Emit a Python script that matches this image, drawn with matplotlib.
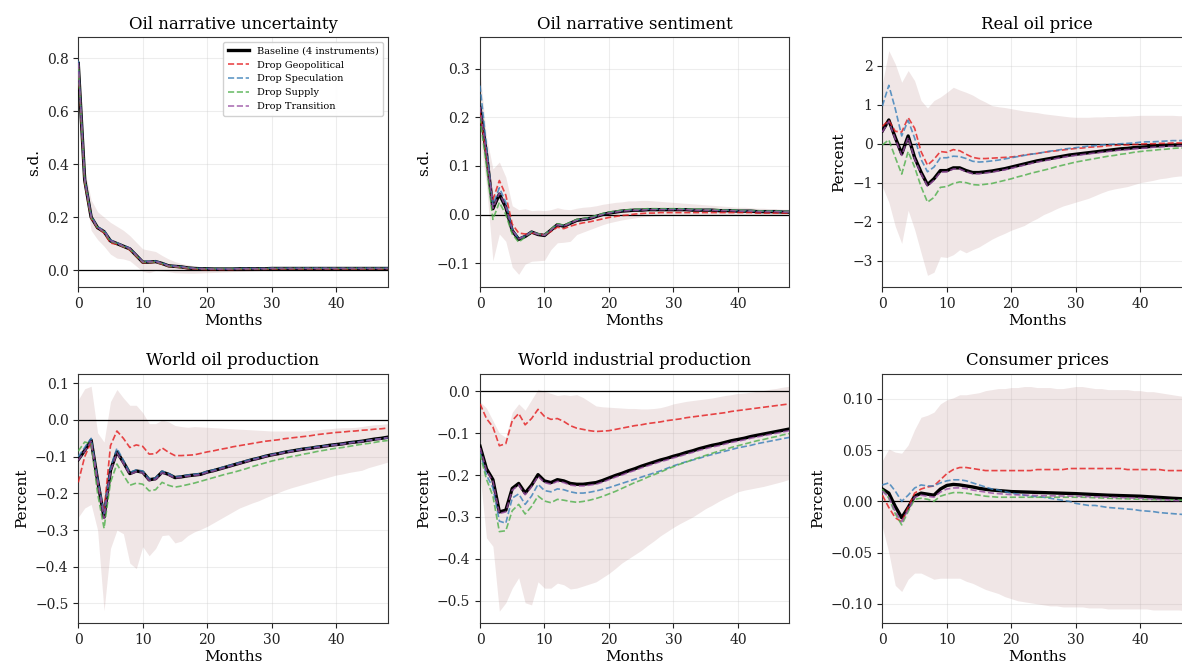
import numpy as np
import matplotlib
matplotlib.use("Agg")
import matplotlib.pyplot as plt

plt.rcParams['font.family'] = ['DejaVu Serif']

months = np.arange(49)

# Oil narrative uncertainty
unc_base = [0.780,0.340,0.200,0.160,0.145,0.110,0.100,0.090,0.080,0.055,0.030,0.030,0.032,0.025,0.016,0.014,0.012,0.008,0.006,0.005,0.005,
            0.004,0.004,0.004,0.004,0.005,0.005,0.005,0.005,0.005,0.006,0.006,0.006,0.006,0.006,0.006,0.006,0.006,0.006,0.006,0.006,0.006,0.006,0.006,0.006,0.006,0.006,0.006,0.006]
unc_geo = [0.770,0.330,0.195,0.158,0.140,0.102,0.097,0.088,0.076,0.052,0.028,0.028,0.030,0.022,0.014,0.012,0.009,0.006,0.004,0.003,0.002,
           0.002,0.002,0.002,0.002,0.003,0.003,0.003,0.003,0.003,0.004,0.004,0.004,0.004,0.004,0.004,0.004,0.004,0.004,0.004,0.004,0.004,0.004,0.004,0.004,0.004,0.004,0.004,0.004]
unc_spec = [0.790,0.345,0.205,0.162,0.150,0.113,0.103,0.092,0.083,0.057,0.032,0.033,0.034,0.027,0.017,0.015,0.013,0.009,0.007,0.006,0.006,
            0.005,0.005,0.005,0.005,0.006,0.006,0.006,0.006,0.006,0.007,0.007,0.007,0.007,0.007,0.007,0.007,0.007,0.007,0.007,0.007,0.007,0.007,0.007,0.007,0.007,0.007,0.007,0.007]
unc_supply = [0.775,0.338,0.198,0.160,0.144,0.108,0.100,0.089,0.079,0.054,0.030,0.029,0.031,0.024,0.015,0.013,0.011,0.008,0.006,0.005,0.005,
              0.005,0.005,0.005,0.005,0.005,0.005,0.005,0.005,0.005,0.006,0.006,0.006,0.006,0.006,0.006,0.006,0.006,0.006,0.006,0.006,0.006,0.006,0.006,0.006,0.006,0.006,0.006,0.006]
unc_trans = [0.782,0.342,0.201,0.160,0.146,0.111,0.101,0.090,0.081,0.056,0.031,0.031,0.032,0.025,0.016,0.014,0.012,0.008,0.006,0.005,0.005,
             0.004,0.004,0.004,0.004,0.005,0.005,0.005,0.005,0.005,0.006,0.006,0.006,0.006,0.006,0.006,0.006,0.006,0.006,0.006,0.006,0.006,0.006,0.006,0.006,0.006,0.006,0.006,0.006]
unc_lo = [0.760,0.300,0.150,0.115,0.090,0.060,0.045,0.042,0.035,0.015,-0.005,-0.010,-0.002,-0.004,-0.006,-0.010,-0.011,-0.012,-0.012,-0.011,-0.010,
          -0.009,-0.008,-0.007,-0.006,-0.005,-0.004,-0.003,-0.002,-0.001,0.000,0.001,0.001,0.001,0.001,0.001,0.002,0.002,0.002,0.002,0.002,0.002,0.002,0.002,0.002,0.002,0.002,0.002,0.002]
unc_hi = [0.800,0.380,0.265,0.220,0.200,0.180,0.165,0.150,0.130,0.105,0.080,0.075,0.070,0.055,0.042,0.032,0.025,0.020,0.016,0.013,0.011,
          0.010,0.010,0.010,0.009,0.009,0.009,0.009,0.009,0.009,0.009,0.009,0.009,0.009,0.009,0.009,0.009,0.009,0.009,0.009,0.009,0.009,0.009,0.009,0.009,0.009,0.009,0.009,0.009]

# Oil narrative sentiment
sent_base = [0.220,0.125,0.012,0.042,0.015,-0.033,-0.051,-0.045,-0.036,-0.041,-0.043,-0.032,-0.021,-0.024,-0.018,-0.012,-0.010,-0.008,-0.004,0.000,0.003,
             0.005,0.007,0.008,0.009,0.009,0.010,0.010,0.010,0.010,0.010,0.010,0.010,0.009,0.009,0.009,0.009,0.008,0.008,0.008,0.007,0.007,0.007,0.006,0.006,0.006,0.006,0.005,0.005]
sent_geo = [0.210,0.120,0.030,0.070,0.040,-0.020,-0.038,-0.040,-0.038,-0.040,-0.042,-0.035,-0.026,-0.029,-0.024,-0.020,-0.017,-0.015,-0.012,-0.009,-0.006,
            -0.004,-0.002,-0.001,0.001,0.002,0.003,0.003,0.004,0.004,0.004,0.004,0.004,0.004,0.004,0.004,0.004,0.004,0.004,0.004,0.004,0.004,0.004,0.003,0.003,0.003,0.003,0.003,0.003]
sent_spec = [0.265,0.140,0.020,0.055,0.025,-0.030,-0.050,-0.044,-0.035,-0.040,-0.042,-0.031,-0.020,-0.023,-0.017,-0.011,-0.009,-0.007,-0.003,0.001,0.004,
             0.006,0.008,0.009,0.010,0.010,0.011,0.011,0.011,0.011,0.011,0.011,0.011,0.010,0.010,0.010,0.010,0.009,0.009,0.009,0.008,0.008,0.008,0.007,0.007,0.007,0.007,0.006,0.006]
sent_supply = [0.200,0.100,-0.010,0.025,0.000,-0.040,-0.057,-0.046,-0.036,-0.040,-0.042,-0.030,-0.019,-0.022,-0.016,-0.010,-0.008,-0.006,-0.002,0.002,0.005,
               0.007,0.009,0.010,0.011,0.011,0.012,0.012,0.012,0.012,0.012,0.012,0.011,0.011,0.011,0.010,0.010,0.010,0.009,0.009,0.009,0.008,0.008,0.008,0.007,0.007,0.007,0.006,0.006]
sent_trans = [0.222,0.126,0.013,0.044,0.016,-0.032,-0.050,-0.044,-0.036,-0.041,-0.043,-0.032,-0.021,-0.024,-0.018,-0.012,-0.010,-0.008,-0.004,0.000,0.003,
              0.005,0.007,0.008,0.009,0.009,0.010,0.010,0.010,0.010,0.010,0.010,0.010,0.009,0.009,0.009,0.009,0.008,0.008,0.008,0.007,0.007,0.007,0.006,0.006,0.006,0.006,0.005,0.005]
sent_lo = [0.160,0.060,-0.095,-0.040,-0.055,-0.108,-0.123,-0.102,-0.096,-0.095,-0.094,-0.072,-0.058,-0.057,-0.055,-0.041,-0.036,-0.031,-0.026,-0.021,-0.017,
           -0.014,-0.011,-0.009,-0.007,-0.005,-0.004,-0.003,-0.002,-0.001,0.000,0.000,0.000,0.000,0.000,0.000,0.000,0.000,0.000,0.000,0.000,0.000,0.000,0.000,0.000,0.000,0.000,0.000,0.000]
sent_hi = [0.295,0.160,0.094,0.108,0.077,0.018,0.010,0.012,0.008,0.009,0.008,0.010,0.014,0.011,0.010,0.013,0.015,0.016,0.018,0.021,0.023,
           0.025,0.026,0.028,0.028,0.029,0.029,0.028,0.027,0.026,0.025,0.024,0.023,0.022,0.021,0.020,0.019,0.018,0.017,0.016,0.015,0.015,0.014,0.013,0.013,0.012,0.012,0.011,0.011]

# Real oil price
price_base = [0.33,0.61,0.16,-0.26,0.20,-0.35,-0.73,-1.05,-0.90,-0.69,-0.69,-0.62,-0.62,-0.69,-0.74,-0.74,-0.72,-0.70,-0.67,-0.64,-0.60,
              -0.56,-0.52,-0.48,-0.44,-0.41,-0.38,-0.35,-0.32,-0.29,-0.27,-0.25,-0.23,-0.21,-0.19,-0.17,-0.15,-0.13,-0.12,-0.10,-0.09,-0.08,-0.06,-0.05,-0.04,-0.035,-0.03,-0.025,-0.02]
price_geo = [0.45,0.60,0.32,0.30,0.67,0.40,-0.20,-0.55,-0.40,-0.20,-0.22,-0.15,-0.18,-0.27,-0.35,-0.38,-0.38,-0.37,-0.36,-0.35,-0.34,
             -0.32,-0.29,-0.27,-0.25,-0.22,-0.20,-0.18,-0.16,-0.14,-0.12,-0.11,-0.09,-0.08,-0.07,-0.05,-0.04,-0.03,-0.03,-0.02,-0.01,0.00,0.00,0.01,0.01,0.02,0.02,0.02,0.02]
price_spec = [0.97,1.50,0.90,0.20,0.60,0.15,-0.40,-0.72,-0.60,-0.36,-0.36,-0.32,-0.33,-0.38,-0.45,-0.47,-0.46,-0.44,-0.42,-0.39,-0.36,
              -0.33,-0.30,-0.27,-0.25,-0.22,-0.19,-0.17,-0.14,-0.12,-0.10,-0.08,-0.06,-0.05,-0.03,-0.02,-0.01,0.00,0.01,0.02,0.04,0.05,0.05,0.06,0.07,0.08,0.08,0.09,0.09]
price_supply = [-0.03,0.10,-0.35,-0.78,-0.20,-0.60,-1.10,-1.50,-1.38,-1.12,-1.10,-1.02,-0.98,-1.00,-1.05,-1.06,-1.04,-1.02,-0.98,-0.94,-0.90,
                -0.85,-0.81,-0.76,-0.72,-0.68,-0.64,-0.59,-0.55,-0.51,-0.47,-0.44,-0.41,-0.38,-0.35,-0.32,-0.30,-0.27,-0.25,-0.22,-0.20,-0.18,-0.17,-0.15,-0.14,-0.12,-0.11,-0.11,-0.10]
price_trans = [0.30,0.58,0.12,-0.30,0.16,-0.39,-0.77,-1.09,-0.94,-0.73,-0.72,-0.65,-0.65,-0.72,-0.77,-0.77,-0.75,-0.73,-0.70,-0.67,-0.63,
               -0.59,-0.55,-0.51,-0.47,-0.44,-0.41,-0.38,-0.35,-0.32,-0.30,-0.28,-0.26,-0.24,-0.22,-0.20,-0.18,-0.16,-0.15,-0.13,-0.12,-0.11,-0.09,-0.08,-0.07,-0.06,-0.05,-0.05,-0.04]
price_lo = [-1.10,-1.50,-2.12,-2.56,-1.71,-2.20,-2.80,-3.38,-3.30,-2.90,-2.92,-2.85,-2.72,-2.80,-2.72,-2.65,-2.55,-2.45,-2.37,-2.30,-2.22,
            -2.16,-2.10,-2.00,-1.92,-1.82,-1.75,-1.67,-1.60,-1.55,-1.50,-1.45,-1.40,-1.33,-1.26,-1.20,-1.16,-1.13,-1.10,-1.05,-1.00,-0.97,-0.94,-0.90,-0.88,-0.85,-0.83,-0.82,-0.80]
price_hi = [1.54,2.39,2.05,1.58,1.88,1.62,1.11,0.92,1.11,1.20,1.32,1.45,1.38,1.32,1.25,1.15,1.07,0.98,0.95,0.93,0.90,
            0.87,0.84,0.82,0.80,0.77,0.75,0.73,0.71,0.69,0.68,0.68,0.68,0.69,0.69,0.70,0.70,0.71,0.71,0.72,0.73,0.73,0.73,0.73,0.73,0.73,0.72,0.72,0.72]

# World oil production
prod_base = [-0.108,-0.083,-0.055,-0.165,-0.265,-0.137,-0.087,-0.115,-0.146,-0.139,-0.142,-0.163,-0.160,-0.142,-0.148,-0.157,-0.155,-0.152,-0.150,-0.148,-0.142,
             -0.138,-0.133,-0.128,-0.123,-0.118,-0.113,-0.108,-0.104,-0.099,-0.095,-0.092,-0.088,-0.085,-0.082,-0.079,-0.077,-0.074,-0.072,-0.069,-0.067,-0.065,-0.062,-0.060,-0.058,-0.055,-0.052,-0.050,-0.047]
prod_geo = [-0.170,-0.100,-0.060,-0.170,-0.250,-0.070,-0.030,-0.050,-0.075,-0.068,-0.072,-0.093,-0.092,-0.076,-0.088,-0.097,-0.097,-0.096,-0.095,-0.091,-0.087,
            -0.084,-0.080,-0.077,-0.073,-0.070,-0.067,-0.064,-0.061,-0.058,-0.056,-0.054,-0.051,-0.049,-0.047,-0.045,-0.043,-0.040,-0.038,-0.036,-0.034,-0.033,-0.031,-0.030,-0.028,-0.027,-0.025,-0.024,-0.022]
prod_spec = [-0.100,-0.075,-0.050,-0.160,-0.255,-0.130,-0.077,-0.110,-0.143,-0.136,-0.139,-0.160,-0.158,-0.139,-0.146,-0.155,-0.153,-0.150,-0.148,-0.146,-0.140,
             -0.136,-0.131,-0.126,-0.121,-0.116,-0.111,-0.107,-0.103,-0.098,-0.094,-0.091,-0.087,-0.084,-0.081,-0.078,-0.076,-0.073,-0.071,-0.069,-0.067,-0.065,-0.062,-0.060,-0.058,-0.055,-0.053,-0.051,-0.049]
prod_supply = [-0.085,-0.060,-0.065,-0.200,-0.295,-0.170,-0.120,-0.150,-0.178,-0.172,-0.175,-0.193,-0.190,-0.170,-0.178,-0.183,-0.180,-0.176,-0.172,-0.167,-0.162,
               -0.157,-0.152,-0.147,-0.143,-0.138,-0.133,-0.127,-0.122,-0.117,-0.112,-0.108,-0.104,-0.100,-0.097,-0.093,-0.090,-0.086,-0.083,-0.080,-0.077,-0.075,-0.072,-0.069,-0.066,-0.064,-0.061,-0.058,-0.056]
prod_trans = [-0.110,-0.085,-0.058,-0.168,-0.268,-0.140,-0.090,-0.118,-0.148,-0.141,-0.144,-0.165,-0.162,-0.144,-0.150,-0.158,-0.156,-0.153,-0.151,-0.149,-0.143,
              -0.139,-0.134,-0.129,-0.124,-0.119,-0.114,-0.109,-0.105,-0.100,-0.096,-0.093,-0.089,-0.086,-0.083,-0.080,-0.078,-0.075,-0.073,-0.070,-0.068,-0.066,-0.063,-0.061,-0.059,-0.056,-0.053,-0.051,-0.048]
prod_lo = [-0.265,-0.240,-0.230,-0.300,-0.520,-0.350,-0.300,-0.310,-0.390,-0.405,-0.345,-0.370,-0.350,-0.315,-0.313,-0.335,-0.330,-0.315,-0.305,-0.298,-0.290,
           -0.280,-0.270,-0.260,-0.250,-0.240,-0.233,-0.226,-0.220,-0.212,-0.205,-0.198,-0.191,-0.185,-0.180,-0.175,-0.170,-0.165,-0.160,-0.155,-0.150,-0.147,-0.143,-0.140,-0.137,-0.130,-0.125,-0.120,-0.115]
prod_hi = [0.055,0.085,0.092,-0.035,-0.060,0.050,0.083,0.060,0.040,0.040,0.020,-0.010,-0.010,0.000,-0.005,-0.015,-0.018,-0.020,-0.018,-0.019,-0.020,
           -0.021,-0.022,-0.023,-0.024,-0.025,-0.026,-0.027,-0.028,-0.029,-0.030,-0.030,-0.030,-0.030,-0.030,-0.030,-0.028,-0.027,-0.025,-0.024,-0.022,-0.021,-0.021,-0.020,-0.018,-0.015,-0.013,-0.012,-0.010]

# World industrial production
ip_base = [-0.131,-0.185,-0.211,-0.288,-0.284,-0.232,-0.220,-0.243,-0.224,-0.199,-0.214,-0.218,-0.211,-0.214,-0.220,-0.222,-0.222,-0.220,-0.218,-0.213,-0.207,
           -0.201,-0.196,-0.190,-0.185,-0.179,-0.174,-0.169,-0.164,-0.160,-0.155,-0.151,-0.146,-0.142,-0.137,-0.133,-0.129,-0.126,-0.122,-0.118,-0.115,-0.112,-0.108,-0.105,-0.102,-0.099,-0.096,-0.093,-0.090]
ip_geo = [-0.030,-0.065,-0.085,-0.130,-0.125,-0.070,-0.053,-0.080,-0.065,-0.043,-0.060,-0.067,-0.065,-0.072,-0.082,-0.088,-0.091,-0.094,-0.096,-0.095,-0.094,
          -0.091,-0.088,-0.085,-0.082,-0.080,-0.077,-0.075,-0.073,-0.070,-0.068,-0.066,-0.063,-0.061,-0.059,-0.057,-0.055,-0.053,-0.051,-0.048,-0.046,-0.044,-0.042,-0.040,-0.038,-0.036,-0.034,-0.032,-0.030]
ip_spec = [-0.145,-0.200,-0.230,-0.310,-0.315,-0.255,-0.245,-0.270,-0.250,-0.222,-0.237,-0.240,-0.233,-0.235,-0.240,-0.243,-0.243,-0.241,-0.238,-0.234,-0.230,
           -0.225,-0.220,-0.215,-0.210,-0.205,-0.200,-0.195,-0.190,-0.184,-0.178,-0.173,-0.168,-0.164,-0.160,-0.155,-0.151,-0.147,-0.143,-0.139,-0.135,-0.132,-0.129,-0.125,-0.122,-0.119,-0.116,-0.113,-0.110]
ip_supply = [-0.150,-0.210,-0.250,-0.335,-0.333,-0.285,-0.270,-0.293,-0.275,-0.250,-0.262,-0.266,-0.258,-0.260,-0.263,-0.265,-0.263,-0.260,-0.256,-0.251,-0.245,
             -0.239,-0.232,-0.225,-0.218,-0.212,-0.205,-0.199,-0.193,-0.186,-0.180,-0.174,-0.169,-0.163,-0.158,-0.153,-0.148,-0.143,-0.139,-0.134,-0.130,-0.126,-0.122,-0.118,-0.115,-0.111,-0.108,-0.104,-0.101]
ip_trans = [-0.135,-0.189,-0.215,-0.292,-0.288,-0.236,-0.224,-0.247,-0.228,-0.203,-0.218,-0.222,-0.215,-0.218,-0.224,-0.226,-0.226,-0.224,-0.222,-0.217,-0.211,
            -0.205,-0.200,-0.194,-0.189,-0.183,-0.178,-0.173,-0.168,-0.164,-0.159,-0.155,-0.150,-0.146,-0.141,-0.137,-0.133,-0.130,-0.126,-0.122,-0.119,-0.116,-0.112,-0.109,-0.106,-0.103,-0.100,-0.097,-0.094]
ip_lo = [-0.200,-0.350,-0.370,-0.525,-0.505,-0.470,-0.445,-0.505,-0.510,-0.455,-0.470,-0.470,-0.458,-0.462,-0.472,-0.470,-0.465,-0.460,-0.455,-0.445,-0.435,
         -0.423,-0.410,-0.400,-0.390,-0.380,-0.368,-0.357,-0.345,-0.335,-0.325,-0.316,-0.308,-0.300,-0.290,-0.280,-0.272,-0.263,-0.255,-0.248,-0.240,-0.236,-0.233,-0.230,-0.227,-0.223,-0.219,-0.215,-0.210]
ip_hi = [-0.025,-0.040,-0.070,-0.100,-0.110,-0.050,-0.030,-0.045,-0.020,0.005,0.000,-0.005,-0.010,-0.008,-0.010,-0.008,-0.015,-0.025,-0.035,-0.037,-0.038,
         -0.039,-0.040,-0.041,-0.041,-0.042,-0.042,-0.041,-0.039,-0.035,-0.030,-0.027,-0.024,-0.022,-0.020,-0.018,-0.016,-0.013,-0.010,-0.008,-0.005,-0.004,-0.002,0.000,0.002,0.005,0.007,0.010,0.012]

# Consumer prices
cpi_base = [0.012,0.008,-0.005,-0.016,-0.006,0.005,0.008,0.007,0.006,0.012,0.0155,0.0165,0.016,0.015,0.014,0.0127,0.0117,0.011,0.0105,0.010,0.0095,
            0.0093,0.0091,0.0089,0.0087,0.0085,0.0083,0.0081,0.0079,0.0077,0.0075,0.0072,0.0069,0.0066,0.0063,0.0060,0.0058,0.0056,0.0054,0.0052,0.0050,0.0046,0.0042,0.0038,0.0034,0.0030,0.0027,0.0023,0.0020]
cpi_geo = [0.006,-0.006,-0.016,-0.020,-0.006,0.008,0.012,0.014,0.015,0.021,0.027,0.031,0.033,0.033,0.032,0.031,0.030,0.030,0.030,0.030,0.030,
           0.030,0.030,0.030,0.031,0.031,0.031,0.031,0.031,0.032,0.032,0.032,0.032,0.032,0.032,0.032,0.032,0.032,0.031,0.031,0.031,0.031,0.031,0.031,0.030,0.030,0.030,0.030,0.030]
cpi_spec = [0.016,0.018,0.010,0.000,0.006,0.013,0.016,0.015,0.015,0.018,0.020,0.021,0.021,0.020,0.018,0.016,0.014,0.012,0.011,0.0095,0.008,
            0.007,0.006,0.005,0.0045,0.004,0.003,0.002,0.001,0.000,-0.002,-0.003,-0.004,-0.004,-0.005,-0.006,-0.0065,-0.007,-0.0075,-0.008,-0.009,-0.0095,-0.010,-0.011,-0.0115,-0.012,-0.0125,-0.013,-0.014]
cpi_supply = [0.012,0.003,-0.012,-0.023,-0.010,0.002,0.003,0.002,0.000,0.005,0.007,0.0085,0.0085,0.008,0.007,0.006,0.005,0.0045,0.004,0.004,0.004,
              0.004,0.004,0.004,0.004,0.004,0.004,0.004,0.004,0.004,0.004,0.004,0.0038,0.0035,0.0033,0.003,0.0028,0.0026,0.0024,0.0022,0.002,0.0018,0.0017,0.0016,0.0015,0.0014,0.0013,0.0012,0.001]
cpi_trans = [0.010,0.004,-0.010,-0.020,-0.008,0.004,0.006,0.005,0.004,0.009,0.012,0.013,0.0132,0.0125,0.011,0.010,0.009,0.008,0.0075,0.007,0.0065,
             0.0063,0.0061,0.0059,0.0057,0.0055,0.0054,0.0053,0.0052,0.0051,0.005,0.0048,0.0046,0.0044,0.0042,0.004,0.0038,0.0036,0.0034,0.0032,0.003,0.0026,0.0022,0.0018,0.0014,0.001,0.0007,0.0003,0.0]
cpi_lo = [-0.025,-0.050,-0.082,-0.088,-0.076,-0.070,-0.070,-0.073,-0.076,-0.075,-0.075,-0.075,-0.075,-0.078,-0.080,-0.083,-0.086,-0.088,-0.090,-0.093,-0.095,
          -0.097,-0.098,-0.099,-0.100,-0.101,-0.102,-0.102,-0.103,-0.103,-0.103,-0.103,-0.104,-0.104,-0.104,-0.105,-0.105,-0.105,-0.105,-0.105,-0.105,-0.105,-0.106,-0.106,-0.106,-0.106,-0.106,-0.107,-0.107]
cpi_hi = [0.040,0.051,0.048,0.047,0.055,0.070,0.082,0.084,0.087,0.095,0.099,0.101,0.104,0.104,0.105,0.106,0.108,0.109,0.110,0.110,0.111,
          0.111,0.112,0.112,0.111,0.111,0.111,0.110,0.110,0.111,0.112,0.112,0.111,0.110,0.110,0.109,0.109,0.109,0.109,0.108,0.108,0.107,0.107,0.106,0.105,0.104,0.103,0.102,0.101]

panels = [
    ("Oil narrative uncertainty", "s.d.", unc_base, unc_geo, unc_spec, unc_supply, unc_trans, unc_lo, unc_hi, (-0.064, 0.878)),
    ("Oil narrative sentiment", "s.d.", sent_base, sent_geo, sent_spec, sent_supply, sent_trans, sent_lo, sent_hi, (-0.149, 0.364)),
    ("Real oil price", "Percent", price_base, price_geo, price_spec, price_supply, price_trans, price_lo, price_hi, (-3.68, 2.73)),
    ("World oil production", "Percent", prod_base, prod_geo, prod_spec, prod_supply, prod_trans, prod_lo, prod_hi, (-0.554, 0.126)),
    ("World industrial production", "Percent", ip_base, ip_geo, ip_spec, ip_supply, ip_trans, ip_lo, ip_hi, (-0.554, 0.042)),
    ("Consumer prices", "Percent", cpi_base, cpi_geo, cpi_spec, cpi_supply, cpi_trans, cpi_lo, cpi_hi, (-0.119, 0.1245)),
]

drop_styles = [("Drop Geopolitical", "#e41a1c"), ("Drop Speculation", "#377eb8"),
               ("Drop Supply", "#4daf4a"), ("Drop Transition", "#984ea3")]

fig = plt.figure(figsize=(11.82, 6.70), dpi=100)

lefts = [0.0662, 0.4061, 0.7465]
bottoms = [0.5716, 0.0697]
w, h = 0.2618, 0.3725

for k, (title, ylab, base, geo, spec, sup, trans, lo, hi, ylim) in enumerate(panels):
    ax = fig.add_axes([lefts[k % 3], bottoms[k // 3], w, h])
    ax.fill_between(months, lo, hi, color="rosybrown", alpha=0.22, linewidth=0, zorder=1)
    ax.axhline(0, color="black", lw=0.9, zorder=2)
    ax.plot(months, base, color="black", lw=2.4, label="Baseline (4 instruments)", zorder=3)
    for (lab, col), series in zip(drop_styles, [geo, spec, sup, trans]):
        ax.plot(months, series, color=col, lw=1.2, ls="--", alpha=0.8, label=lab, zorder=4)
    ax.set_xlim(0, 48)
    ax.set_ylim(*ylim)
    ax.set_title(title, fontsize=12)
    ax.set_xlabel("Months", fontsize=11, labelpad=2)
    ax.set_ylabel(ylab, fontsize=11)
    ax.tick_params(labelsize=10, colors="#222222")
    ax.grid(True, color="#cccccc", alpha=0.35, lw=0.8)
    ax.set_axisbelow(True)
    for s in ax.spines.values():
        s.set_color("#333333")
    if k == 0:
        ax.legend(loc="upper right", fontsize=7, frameon=True, framealpha=0.9, edgecolor="#cccccc",
                  handlelength=2.2, borderpad=0.45, labelspacing=0.5)

fig.savefig("out.png", dpi=100)
